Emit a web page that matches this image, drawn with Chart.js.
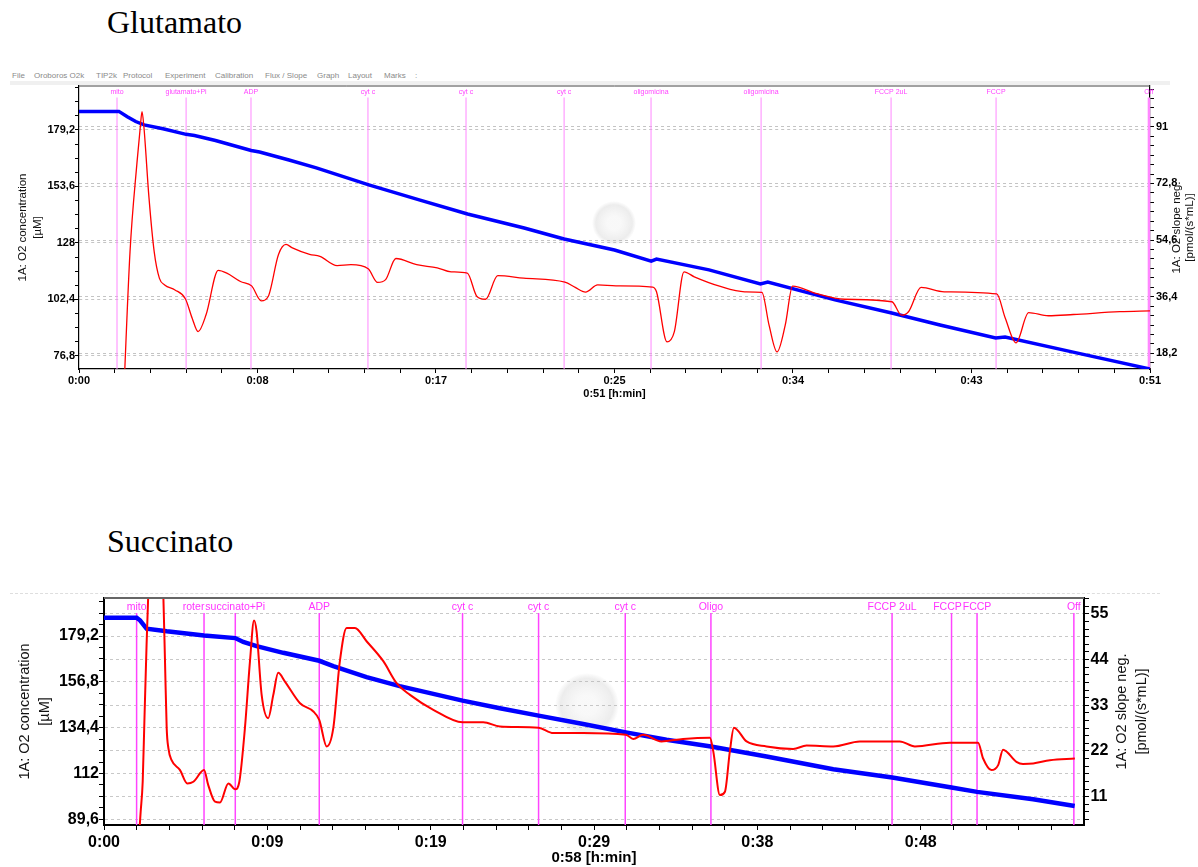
<!DOCTYPE html>
<html>
<head>
<meta charset="utf-8">
<script src="https://cdn.jsdelivr.net/npm/chart.js@4.4.1/dist/chart.umd.min.js"></script>
<style>
  html, body { margin:0; padding:0; background:#fff; width:1198px; height:867px; overflow:hidden; position:relative; font-family:'Liberation Sans', Arial, sans-serif; }
  .heading { position:absolute; left:107px; font-family:'Liberation Serif','Times New Roman',serif; font-size:32px; line-height:32px; color:#000; }
  .menu { position:absolute; top:71px; font-size:8px; line-height:10px; color:#8a8a8a; white-space:nowrap; }
  canvas { position:absolute; left:0; }
</style>
</head>
<body>
<div class="heading" style="top:6px">Glutamato</div>
<div class="heading" style="top:525px">Succinato</div>

<span class="menu" style="left:12px">File</span>
<span class="menu" style="left:34px">Oroboros O2k</span>
<span class="menu" style="left:96px">TIP2k</span>
<span class="menu" style="left:123px">Protocol</span>
<span class="menu" style="left:165px">Experiment</span>
<span class="menu" style="left:215px">Calibration</span>
<span class="menu" style="left:265px">Flux / Slope</span>
<span class="menu" style="left:317px">Graph</span>
<span class="menu" style="left:348px">Layout</span>
<span class="menu" style="left:384px">Marks</span>
<span class="menu" style="left:415px">:</span>
<div style="position:absolute;left:10px;top:81px;width:1160px;height:4px;background:#f0f0f0"></div>
<div style="position:absolute;left:10px;top:593px;width:1150px;height:0;border-top:1px dashed #dedede"></div>

<canvas id="c1" width="1198" height="350" style="top:60px"></canvas>
<canvas id="c2" width="1198" height="289" style="top:578px"></canvas>

<script>
// ================= DATA : Glutamato =================
const glutXTickValues = [0, 8.5, 17, 25.5, 34, 42.5, 51];
const glutXTickLabels = ['0:00', '0:08', '0:17', '0:25', '0:34', '0:43', '0:51'];
const glutLeftTicks = [76.8, 102.4, 128, 153.6, 179.2];
const glutLeftTickLabels = ['76,8', '102,4', '128', '153,6', '179,2'];
const glutRightTicks = [18.2, 36.4, 54.6, 72.8, 91];
const glutRightTickLabels = ['18,2', '36,4', '54,6', '72,8', '91'];
const glutEventTimes = [1.81, 5.10, 8.19, 13.76, 18.43, 23.1, 27.24, 32.48, 38.67, 43.67, 50.95];
const glutEventLabels = ['mito', 'glutamato+Pi', 'ADP', 'cyt c', 'cyt c', 'cyt c', 'oligomicina', 'oligomicina', 'FCCP 2uL', 'FCCP', 'Off'];
// O2 concentration [µM] (left axis)
const glutConcTime = [0, 1.9, 2.3, 2.7, 3.1, 4.0, 5.1, 5.5, 6.5, 8.2, 8.6, 10, 11.3, 13.8, 16.2, 18.5, 21.2, 23.1, 25.5, 27.25, 27.5, 30, 32.45, 32.8, 36, 38.7, 41, 43.65, 44.1, 47.5, 51];
const glutConcValues = [187.6, 187.6, 185.2, 183.0, 181.5, 179.7, 177.2, 176.7, 174.4, 169.9, 169.2, 165.6, 162.0, 154.3, 147.5, 141.1, 134.8, 129.8, 124.8, 119.8, 120.7, 115.8, 109.4, 110.3, 102.2, 96.3, 90.8, 85.0, 85.4, 78.2, 70.9];
// O2 slope neg. [pmol/(s*mL)] (right axis)
const glutSlopeTime = [2.1, 2.43, 2.76, 2.92, 3.0, 3.09, 3.33, 3.58, 3.83, 4.08, 4.57, 5.07, 5.39, 5.67, 6.05, 6.63, 7.04, 7.69, 8.22, 8.68, 9.01, 9.5, 9.86, 10.16, 10.98, 11.47, 12.29, 12.95, 13.77, 14.22, 14.6, 15.09, 16.08, 17.06, 17.72, 18.49, 18.95, 19.36, 19.94, 21.17, 23.14, 23.63, 24.12, 24.7, 25.57, 27.32, 27.5, 28.0, 28.35, 28.81, 29.3, 30.5, 31.7, 32.52, 32.86, 33.24, 33.63, 33.98, 35.08, 36.45, 38.71, 39.17, 39.5, 40.1, 41.2, 43.7, 44.11, 44.62, 45.22, 46.16, 47.35, 49.56, 51.0];
const glutSlopeValues = [0, 50.9, 79.4, 91, 95.9, 91, 68.4, 50.9, 42.3, 40.2, 38.6, 35.7, 29.5, 25.2, 30.6, 44.9, 44.0, 41.3, 39.9, 35.1, 36.5, 50.0, 53.2, 52.1, 50.0, 49.4, 46.4, 46.7, 45.4, 41.0, 41.9, 48.7, 46.7, 45.7, 44.4, 44.0, 36.5, 35.6, 43.2, 42.4, 41.1, 39.4, 37.9, 40.2, 39.9, 39.5, 38.0, 21.9, 25.2, 44.4, 42.8, 39.8, 38.0, 37.8, 27.3, 18.7, 27.3, 39.8, 37.5, 35.6, 34.8, 30.5, 31.6, 39.4, 38.0, 37.3, 29.5, 21.6, 31.3, 30.3, 30.7, 31.6, 31.9];

// ================= DATA : Succinato =================
const succXTickValues = [0, 9.667, 19.333, 29, 38.667, 48.333, 58];
const succXTickLabels = ['0:00', '0:09', '0:19', '0:29', '0:38', '0:48', '0:58'];
const succLeftTicks = [89.6, 112, 134.4, 156.8, 179.2];
const succLeftTickLabels = ['89,6', '112', '134,4', '156,8', '179,2'];
const succRightTicks = [11, 22, 33, 44, 55];
const succRightTickLabels = ['11', '22', '33', '44', '55'];
const succEventTimes = [1.93, 5.92, 7.77, 12.74, 21.22, 25.72, 30.85, 35.92, 46.64, 50.16, 51.67, 57.4];
const succEventLabels = ['mito', 'roter', 'succinato+Pi', 'ADP', 'cyt c', 'cyt c', 'cyt c', 'Oligo', 'FCCP 2uL', 'FCCP', 'FCCP', 'Off'];
const succConcTime = [0, 1.93, 2.13, 2.52, 3.71, 5.92, 7.77, 8.24, 9.03, 10.61, 12.74, 13.57, 15.54, 17.5, 19.49, 21.22, 23.43, 25.72, 28.36, 30.89, 33.29, 35.92, 39.21, 43.16, 46.65, 50.16, 51.67, 54.99, 57.45];
const succConcValues = [188.2, 188.2, 186.9, 182.8, 181.5, 179.5, 178.2, 176.3, 174.3, 171.0, 167.1, 164.5, 159.1, 154.7, 150.9, 147.6, 143.9, 140.3, 136.2, 132.1, 128.5, 125.2, 120.3, 114.1, 110.0, 105.1, 103.0, 99.4, 96.1];
const succSlopeTime = [2.05, 2.17, 2.29, 2.39, 2.52, 2.62, 2.8, 3.3, 3.51, 3.61, 3.71, 3.81, 4.0, 4.5, 4.93, 5.29, 5.92, 6.17, 6.57, 6.86, 7.36, 7.77, 8.01, 8.34, 8.64, 8.88, 9.03, 9.33, 9.72, 10.02, 10.31, 10.71, 11.6, 12.39, 12.74, 13.18, 13.57, 13.96, 14.36, 14.85, 15.54, 16.53, 17.32, 18.11, 19.49, 21.22, 22.45, 23.43, 25.72, 26.59, 28.36, 30.89, 31.32, 31.91, 32.99, 34.27, 35.86, 36.06, 36.45, 36.75, 37.04, 37.28, 38.03, 39.21, 40.79, 41.58, 43.16, 44.73, 47.1, 47.99, 50.06, 51.73, 52.03, 52.52, 52.92, 53.21, 54.0, 54.39, 54.99, 55.98, 57.46];
const succSlopeValues = [0, 7.4, 14.6, 29.1, 47.6, 59.7, 80, 80, 59.7, 43.6, 27.5, 22.7, 19.8, 17.4, 14.2, 14.6, 17.4, 13.8, 9.8, 9.6, 14.2, 12.8, 14.6, 27.5, 43.6, 53.4, 50.8, 35.5, 29.9, 35.5, 40.8, 38.7, 33.5, 31.5, 29.5, 23.1, 27.5, 43.6, 51.6, 51.6, 48.4, 43.6, 38.3, 35.5, 31.9, 28.9, 28.9, 27.9, 27.6, 26.3, 26.3, 25.9, 24.9, 25.9, 24.3, 24.9, 25.2, 21.9, 11.4, 12.2, 21.9, 27.6, 24.3, 23.1, 22.5, 23.3, 23.1, 24.3, 24.3, 23.1, 24.0, 24.0, 20.2, 17.4, 18.6, 22.3, 19.4, 18.9, 19.0, 19.8, 20.2];

// ================= CHART BUILDING =================
const SANS = "'Liberation Sans', Arial, sans-serif";

function tickSet(majors, labels, sub, min, max) {
  const step = (majors[1] - majors[0]) / sub;
  const out = [];
  let v = majors[0];
  while (v - step >= min - 1e-6) v -= step;
  for (; v <= max + 1e-6; v += step) {
    const k = majors.findIndex(m => Math.abs(m - v) < step / 4);
    out.push({ value: v, major: k >= 0, text: k >= 0 ? labels[k] : '' });
  }
  return out;
}

function vText(ctx, text, x, y) {
  ctx.save();
  ctx.translate(x, y);
  ctx.rotate(-Math.PI / 2);
  ctx.textAlign = 'center';
  ctx.textBaseline = 'middle';
  ctx.fillText(text, 0, 0);
  ctx.restore();
}

function overlayPlugin(d, s) {
  return {
    id: 'overlay',
    beforeDatasetsDraw(chart) {
      const { ctx, chartArea: a } = chart;
      const x = chart.scales.x;
      ctx.save();
      // faint watermark blob
      const g = ctx.createRadialGradient(s.wm[0], s.wm[1], s.wm[2] * 0.3, s.wm[0], s.wm[1], s.wm[2]);
      g.addColorStop(0, 'rgba(190,190,190,0.10)');
      g.addColorStop(0.75, 'rgba(170,170,170,0.22)');
      g.addColorStop(1, 'rgba(170,170,170,0)');
      ctx.fillStyle = g;
      ctx.beginPath();
      ctx.arc(s.wm[0], s.wm[1], s.wm[2], 0, Math.PI * 2);
      ctx.fill();
      // event marker lines
      d.eventT.forEach((t, i) => {
        const px = x.getPixelForValue(t);
        ctx.strokeStyle = s.evLine;
        ctx.lineWidth = d.eventL[i] === 'Off' ? s.offW : s.evW;
        ctx.beginPath();
        ctx.moveTo(px, a.top + s.lineStart);
        ctx.lineTo(px, a.bottom);
        ctx.stroke();
      });
      // event labels (shift left when overlapping the next one)
      ctx.font = s.evFont;
      ctx.fillStyle = s.evText;
      ctx.textBaseline = 'middle';
      ctx.textAlign = 'left';
      const pos = d.eventT.map((t, i) => {
        const w = ctx.measureText(d.eventL[i]).width;
        return { l: x.getPixelForValue(t) - w / 2, w };
      });
      for (let i = pos.length - 2; i >= 0; i--) {
        const lim = pos[i + 1].l - 1;
        if (pos[i].l + pos[i].w > lim) pos[i].l = lim - pos[i].w;
      }
      pos.forEach((p, i) => ctx.fillText(d.eventL[i], p.l, a.top + s.labelY));
      ctx.restore();
    },
    afterDraw(chart) {
      const { ctx, chartArea: a } = chart;
      ctx.save();
      // top frame line
      ctx.strokeStyle = s.frameColor;
      ctx.lineWidth = s.frameW;
      ctx.beginPath();
      ctx.moveTo(a.left, a.top);
      ctx.lineTo(a.right, a.top);
      ctx.stroke();
      // axis titles
      const midY = (a.top + a.bottom) / 2;
      ctx.fillStyle = '#111';
      ctx.font = s.titleFont;
      vText(ctx, '1A: O2 concentration', s.lTitleX[0], midY);
      vText(ctx, '[µM]', s.lTitleX[1], midY);
      vText(ctx, '1A: O2 slope neg.', s.rTitleX[0], midY);
      vText(ctx, '[pmol/(s*mL)]', s.rTitleX[1], midY);
      ctx.font = s.xTitleFont;
      ctx.textAlign = 'center';
      ctx.textBaseline = 'middle';
      ctx.fillStyle = '#000';
      ctx.fillText(d.xTitle, (a.left + a.right) / 2, s.xTitleY);
      ctx.restore();
    }
  };
}

function yAxis(pos, min, max, ticks, s, width, pad) {
  return {
    type: 'linear', position: pos, min, max,
    afterBuildTicks: ax => { ax.ticks = ticks.map(t => Object.assign({}, t)); },
    afterFit: ax => { ax.width = width; },
    grid: {
      drawOnChartArea: true,
      color: c => (c.tick && c.tick.major) ? s.gridColor : 'rgba(0,0,0,0)',
      lineWidth: 1,
      drawTicks: true,
      tickLength: s.yTickLen,
      tickColor: '#000',
      tickWidth: 1
    },
    border: { display: true, color: '#000', width: s.axisW, dash: [3, 3] },
    ticks: {
      autoSkip: false, padding: pad, color: '#000',
      font: { family: SANS, size: s.tickSize, weight: 'bold' },
      callback: (v, i, arr) => arr[i].text
    }
  };
}

function buildChart(id, d, s) {
  const xt = tickSet(d.xMajors, d.xLabels, s.xSub, d.xMin, d.xMax);
  const lt = tickSet(d.lMajors, d.lLabels, s.lSub, d.lMin, d.lMax);
  const rt = tickSet(d.rMajors, d.rLabels, s.rSub, d.rMin, d.rMax);
  return new Chart(document.getElementById(id), {
    type: 'line',
    data: {
      datasets: [
        {
          label: 'O2 slope neg.',
          data: d.slopeT.map((t, i) => ({ x: t, y: d.slopeV[i] })),
          yAxisID: 'yR',
          borderColor: '#ff0000',
          borderWidth: s.redW,
          pointRadius: 0,
          cubicInterpolationMode: 'monotone',
          fill: false
        },
        {
          label: 'O2 concentration',
          data: d.concT.map((t, i) => ({ x: t, y: d.concV[i] })),
          yAxisID: 'yL',
          borderColor: '#0000ff',
          borderWidth: s.blueW,
          pointRadius: 0,
          tension: 0,
          fill: false
        }
      ]
    },
    options: {
      responsive: false,
      maintainAspectRatio: false,
      animation: false,
      devicePixelRatio: 1,
      events: [],
      layout: { padding: { top: s.padTop, left: 0, right: 0, bottom: 0 } },
      plugins: { legend: { display: false }, tooltip: { enabled: false } },
      scales: {
        x: {
          type: 'linear', position: 'bottom', min: d.xMin, max: d.xMax,
          afterBuildTicks: ax => { ax.ticks = xt.map(t => Object.assign({}, t)); },
          afterFit: ax => { ax.height = s.xHeight; },
          grid: { drawOnChartArea: false, drawTicks: true, tickLength: s.xTickLen, tickColor: '#000', tickWidth: 1 },
          border: { display: true, color: '#000', width: s.axisW },
          ticks: {
            autoSkip: false, maxRotation: 0, minRotation: 0, padding: s.xPad, color: '#000',
            font: { family: SANS, size: s.tickSize, weight: 'bold' },
            callback: (v, i, arr) => arr[i].text
          }
        },
        yL: yAxis('left', d.lMin, d.lMax, lt, s, s.leftW, s.lPad),
        yR: yAxis('right', d.rMin, d.rMax, rt, s, s.rightW, s.rPad)
      }
    },
    plugins: [overlayPlugin(d, s)]
  });
}

buildChart('c1', {
  xMin: 0, xMax: 51, xMajors: glutXTickValues, xLabels: glutXTickLabels,
  lMin: 70.9, lMax: 199.1, lMajors: glutLeftTicks, lLabels: glutLeftTickLabels,
  rMin: 13.2, rMax: 104.1, rMajors: glutRightTicks, rLabels: glutRightTickLabels,
  eventT: glutEventTimes, eventL: glutEventLabels,
  concT: glutConcTime, concV: glutConcValues,
  slopeT: glutSlopeTime, slopeV: glutSlopeValues,
  xTitle: '0:51 [h:min]'
}, {
  padTop: 26, leftW: 79, rightW: 48, xHeight: 41,
  xSub: 5, lSub: 4, rSub: 6,
  tickSize: 11, yTickLen: 4, xTickLen: 4, xPad: 1.5, lPad: 0, rPad: 2,
  axisW: 1.2, gridColor: '#c4c4c4',
  redW: 1.3, blueW: 3.5,
  evLine: '#ff88ff', evText: '#ff44ff', evW: 1, offW: 2.5, evFont: "7px " + SANS, labelY: 6, lineStart: 11.5,
  frameColor: '#444', frameW: 1,
  titleFont: "11.5px " + SANS, lTitleX: [23, 38], rTitleX: [1177, 1190],
  xTitleFont: "bold 11px " + SANS, xTitleY: 334,
  wm: [614, 163, 22]
});

buildChart('c2', {
  xMin: 0, xMax: 58, xMajors: succXTickValues, xLabels: succXTickLabels,
  lMin: 86.8, lMax: 197.8, lMajors: succLeftTicks, lLabels: succLeftTickLabels,
  rMin: 4.2, rMax: 58.8, rMajors: succRightTicks, rLabels: succRightTickLabels,
  eventT: succEventTimes, eventL: succEventLabels,
  concT: succConcTime, concV: succConcValues,
  slopeT: succSlopeTime, slopeV: succSlopeValues,
  xTitle: '0:58 [h:min]'
}, {
  padTop: 20, leftW: 104, rightW: 114, xHeight: 42,
  xSub: 5, lSub: 4, rSub: 6,
  tickSize: 16, yTickLen: 5, xTickLen: 5, xPad: 2.5, lPad: 0, rPad: 1.5,
  axisW: 2, gridColor: '#c8c8c8',
  redW: 2, blueW: 4.5,
  evLine: '#ff44ff', evText: '#ff33ff', evW: 1.5, offW: 1.5, evFont: "10.5px " + SANS, labelY: 9, lineStart: 15,
  frameColor: '#666', frameW: 2,
  titleFont: "14.5px " + SANS, lTitleX: [25, 45], rTitleX: [1122, 1142],
  xTitleFont: "bold 15px " + SANS, xTitleY: 280,
  wm: [587, 127, 32]
});
</script>
</body>
</html>
